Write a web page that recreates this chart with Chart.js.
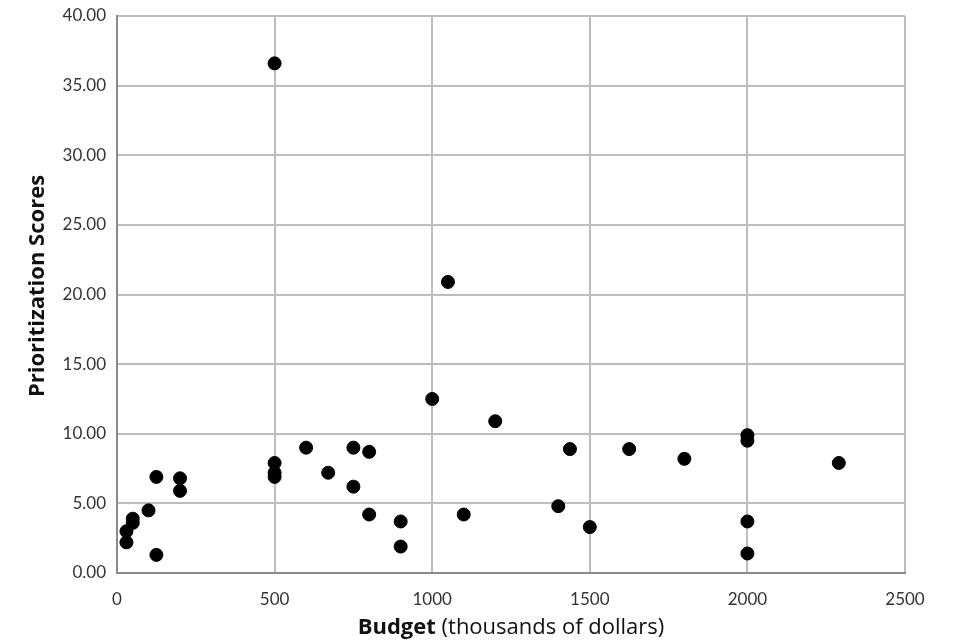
<!DOCTYPE html>
<html>
<head>
<meta charset="utf-8">
<script src="https://cdn.jsdelivr.net/npm/chart.js@4"></script>
<style>
  html, body { margin: 0; padding: 0; background: #fff; }
  #wrap { width: 964px; height: 643px; }
</style>
</head>
<body>
<div id="wrap"><canvas id="c"></canvas></div>
<script>
// Budget (thousands of dollars) vs prioritization score
const budgets = [
  30, 30, 50, 50, 100, 125, 125, 200, 200,
  500, 500, 500, 500, 600, 670, 750, 750, 800, 800, 900, 900,
  1000, 1050, 1100, 1200, 1400, 1437, 1500, 1625, 1800,
  2000, 2000, 2000, 2000, 2290,
];
const scores = [
  2.2, 3.0, 3.9, 3.6, 4.5, 6.9, 1.3, 6.8, 5.9,
  36.6, 7.9, 7.2, 6.9, 9.0, 7.2, 9.0, 6.2, 8.7, 4.2, 3.7, 1.9,
  12.5, 20.9, 4.2, 10.9, 4.8, 8.9, 3.3, 8.9, 8.2,
  9.9, 9.5, 3.7, 1.4, 7.9,
];
const xTicks = [0, 500, 1000, 1500, 2000, 2500];
const yTicks = [0, 5, 10, 15, 20, 25, 30, 35, 40];

const points = budgets.map((b, i) => ({ x: b, y: scores[i] }));

const FONT = "Lato, 'Open Sans', sans-serif";
const TITLE_FONT = "'Open Sans', 'Liberation Sans', sans-serif";

// axis titles drawn by hand: the x title mixes bold and normal text
const titles = {
  id: "titles",
  afterDraw(chart) {
    const ctx = chart.ctx;
    ctx.save();
    ctx.fillStyle = "#111";
    ctx.textBaseline = "middle";

    const bold = `bold 22px ${TITLE_FONT}`;
    const norm = `22px ${TITLE_FONT}`;
    const a = "Budget", b = " (thousands of dollars)";
    ctx.font = bold; const wa = ctx.measureText(a).width;
    ctx.font = norm; const wb = ctx.measureText(b).width;
    const x = 511 - (wa + wb) / 2;
    ctx.font = bold; ctx.textAlign = "left"; ctx.fillText(a, x, 628);
    ctx.font = norm; ctx.fillText(b, x + wa, 628);

    ctx.translate(38, 286);
    ctx.rotate(-Math.PI / 2);
    ctx.font = bold; ctx.textAlign = "center";
    ctx.fillText("Prioritization Scores", 0, 0);
    ctx.restore();
  },
};

new Chart(document.getElementById("c"), {
  type: "scatter",
  data: {
    datasets: [{
      data: points,
      backgroundColor: "#000",
      borderColor: "#000",
      pointRadius: 6.5,
      pointHoverRadius: 6.5,
    }],
  },
  options: {
    responsive: true,
    maintainAspectRatio: false,
    animation: false,
    layout: { padding: { top: 16, right: 59, left: 0, bottom: 0 } },
    plugins: { legend: { display: false }, tooltip: { enabled: false } },
    scales: {
      x: {
        type: "linear",
        min: 0, max: 2500,
        afterBuildTicks: (s) => { s.ticks = xTicks.map((v) => ({ value: v })); },
        afterFit: (s) => { s.height = 70; s.paddingLeft = 0; s.paddingRight = 0; },
        ticks: {
          padding: 16,
          color: "#333",
          font: { family: FONT, size: 17 },
          maxRotation: 0,
          callback: (v) => String(v),
        },
        grid: { color: "#bdbdbd", lineWidth: 2, drawTicks: false },
        border: { color: "#8a8a8a", width: 2 },
      },
      y: {
        type: "linear",
        min: 0, max: 40,
        afterBuildTicks: (s) => { s.ticks = yTicks.map((v) => ({ value: v })); },
        afterFit: (s) => { s.width = 117; s.paddingTop = 0; s.paddingBottom = 0; },
        ticks: {
          padding: 11,
          color: "#333",
          font: { family: FONT, size: 17 },
          callback: (v) => Number(v).toFixed(2),
        },
        grid: { color: "#bdbdbd", lineWidth: 2, drawTicks: false },
        border: { color: "#8a8a8a", width: 2 },
      },
    },
  },
  plugins: [titles],
});
</script>
</body>
</html>
